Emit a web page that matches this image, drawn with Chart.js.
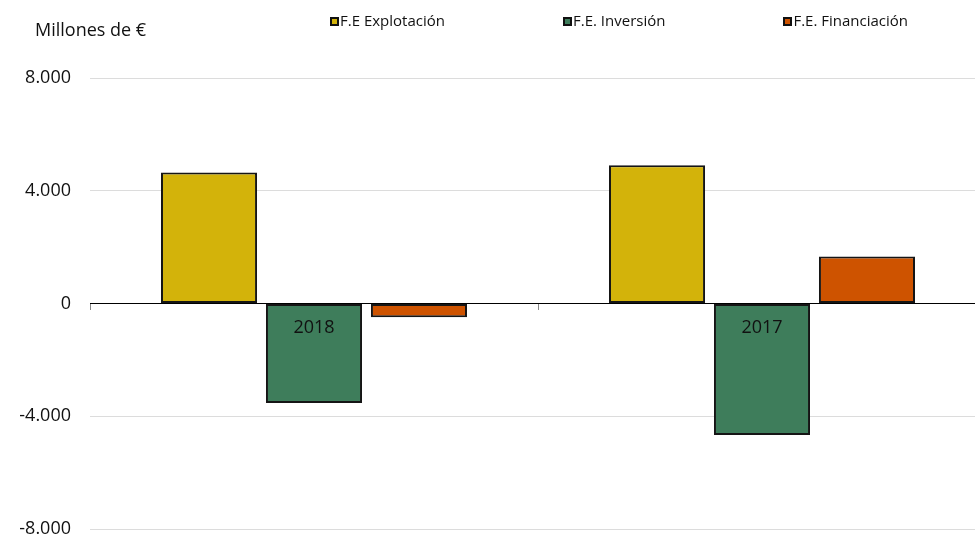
<!DOCTYPE html>
<html lang="es">
<head>
<meta charset="utf-8">
<title>Flujos de efectivo</title>
<script src="https://cdn.jsdelivr.net/npm/chart.js@4"></script>
<style>
    html, body { margin: 0; padding: 0; overflow: hidden; background: #fff; }
    body { font-family: "Open Sans", sans-serif; color: #111; }
    #wrap { position: relative; width: 986px; height: 537px; overflow: hidden; }
    #unidad { position: absolute; left: 35px; top: 20px; font-size: 18px; line-height: 18px; }
    #leyenda { position: absolute; left: 330px; top: 13px; display: flex; gap: 118px; font-size: 15px; line-height: 15px; }
    #leyenda span.item { display: flex; align-items: center; white-space: nowrap; }
    #leyenda span.box { display: inline-block; width: 5px; height: 5px; border: 2px solid #111; margin-right: 1px; margin-top: 1px; }
</style>
</head>
<body>
<div id="wrap">
    <!-- el lienzo es algo más alto que la ventana: el eje x reserva sitio abajo aunque se dibuje en el cero -->
    <canvas id="grafico" width="986" height="557"></canvas>
    <div id="unidad">Millones de €</div>
    <div id="leyenda"></div>
</div>
<script>
// datos (millones de €)
const years = ['2018', '2017'];
const seriesNames = ['F.E Explotación', 'F.E. Inversión', 'F.E. Financiación'];
const explotacion = [4650, 4905];
const inversion = [-3530, -4665];
const financiacion = [-490, 1670];
const yTicks = [-8000, -4000, 0, 4000, 8000];

const seriesColors = ['#D3B30A', '#3E7D5B', '#CE5300'];
const seriesData = [explotacion, inversion, financiacion];

/**
 * Formato con punto de miles, p. ej. 8.000
 */
function formatMiles(v) {
    return v.toLocaleString('de-DE');
}

// leyenda en HTML, a partir de las series
const leyenda = document.getElementById('leyenda');
seriesNames.forEach((name, i) => {
    const item = document.createElement('span');
    item.className = 'item';
    const box = document.createElement('span');
    box.className = 'box';
    box.style.background = seriesColors[i];
    item.appendChild(box);
    item.appendChild(document.createTextNode(name));
    leyenda.appendChild(item);
});

const ctx = document.getElementById('grafico').getContext('2d');
new Chart(ctx, {
    type: 'bar',
    data: {
        labels: years,
        datasets: seriesNames.map((name, i) => ({
            label: name,
            data: seriesData[i],
            backgroundColor: seriesColors[i],
            borderColor: '#151515',
            borderWidth: 2,
            borderSkipped: false,
            categoryPercentage: 0.703,
            barPercentage: 0.915
        }))
    },
    options: {
        responsive: false,
        animation: false,
        layout: { padding: { top: 78, bottom: 0, left: 0, right: 0 } },
        plugins: {
            legend: { display: false },
            tooltip: { enabled: false }
        },
        scales: {
            x: {
                position: { y: 0 },
                afterFit: (scale) => { scale.height = 0; },
                grid: { drawOnChartArea: false, drawTicks: true, tickLength: 6, color: '#888', offset: true },
                border: { display: true, color: '#000', width: 1 },
                ticks: { z: 1, color: '#111', font: { family: 'Open Sans', size: 18 }, padding: 8 }
            },
            y: {
                min: -8000,
                max: 8000,
                afterBuildTicks: (scale) => { scale.ticks = yTicks.map(v => ({ value: v })); },
                afterFit: (scale) => { scale.width = 90; },
                grid: {
                    drawTicks: false,
                    color: (c) => (c.tick && c.tick.value === 0) ? '#000' : '#dcdcdc',
                    lineWidth: 1
                },
                border: { display: false },
                ticks: {
                    color: '#111',
                    padding: 19,
                    font: { family: 'Open Sans', size: 18, lineHeight: 1 },
                    callback: (v) => formatMiles(v)
                }
            }
        }
    }
});
</script>
</body>
</html>
